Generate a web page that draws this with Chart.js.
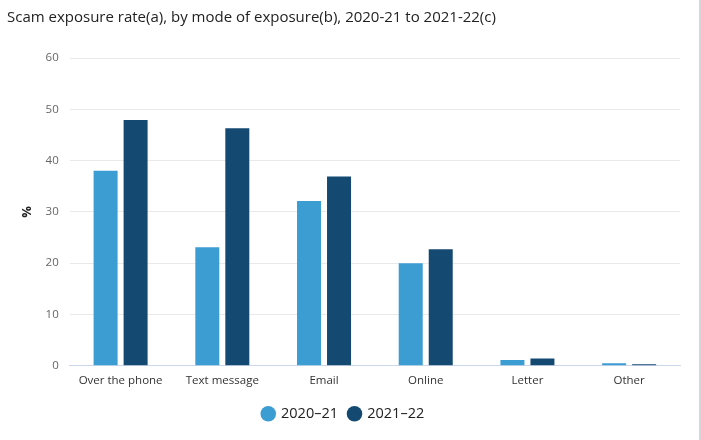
<!DOCTYPE html>
<html>
<head>
<meta charset="utf-8">
<script src="https://cdn.jsdelivr.net/npm/chart.js@4/dist/chart.umd.min.js"></script>
<style>
  html, body { margin: 0; padding: 0; background: #fff; }
  #wrap { position: relative; width: 701px; height: 440px; box-sizing: border-box; border-right: 2px solid #d3d7de; }
  #chart { display: block; }
</style>
</head>
<body>
<div id="wrap"><canvas id="chart" width="699" height="440"></canvas></div>
<script>
  const categories = ["Over the phone", "Text message", "Email", "Online", "Letter", "Other"];
  const rate2021 = [38.0, 23.1, 32.1, 20.0, 1.1, 0.5];
  const rate2122 = [47.9, 46.3, 36.9, 22.7, 1.4, 0.3];
  const seriesNames = ["2020\u201321", "2021\u201322"];
  const yTicks = [0, 10, 20, 30, 40, 50, 60];

  const ctx = document.getElementById("chart").getContext("2d");

  new Chart(ctx, {
    type: "bar",
    data: {
      labels: categories,
      datasets: [
        { label: seriesNames[0], data: rate2021, backgroundColor: "#3c9dd3" },
        { label: seriesNames[1], data: rate2122, backgroundColor: "#144a72" }
      ]
    },
    options: {
      responsive: false,
      animation: false,
      categoryPercentage: 0.59,
      barPercentage: 0.8,
      layout: { padding: { left: 7, right: 19, top: 0, bottom: 9 } },
      plugins: {
        title: {
          display: true,
          text: "Scam exposure rate(a), by mode of exposure(b), 2020-21 to 2021-22(c)",
          align: "start",
          color: "#222",
          font: { family: "Open Sans", size: 15, weight: "normal" },
          padding: { top: 9, bottom: 31 },
          fullSize: true
        },
        legend: {
          position: "bottom",
          labels: {
            usePointStyle: true,
            pointStyle: "circle",
            boxWidth: 11,
            boxHeight: 11,
            padding: 11,
            color: "#222",
            font: { family: "Open Sans", size: 14.5 }
          }
        },
        tooltip: { enabled: false }
      },
      scales: {
        x: {
          grid: { display: false, drawTicks: false },
          border: { color: "#ccd6eb" },
          ticks: { color: "#333", font: { family: "Open Sans", size: 11.5 }, padding: 8 }
        },
        y: {
          min: 0,
          max: 60,
          afterBuildTicks: axis => { axis.ticks = yTicks.map(v => ({ value: v })); },
          grid: { color: "#e9e9e9", drawTicks: false },
          border: { display: false },
          ticks: { color: "#666", font: { family: "Open Sans", size: 11.5 }, padding: 11 },
          title: {
            display: true,
            text: "%",
            color: "#222",
            font: { family: "Open Sans", size: 13, weight: "bold" },
            padding: { top: 12, bottom: 0 }
          }
        }
      }
    }
  });
</script>
</body>
</html>
